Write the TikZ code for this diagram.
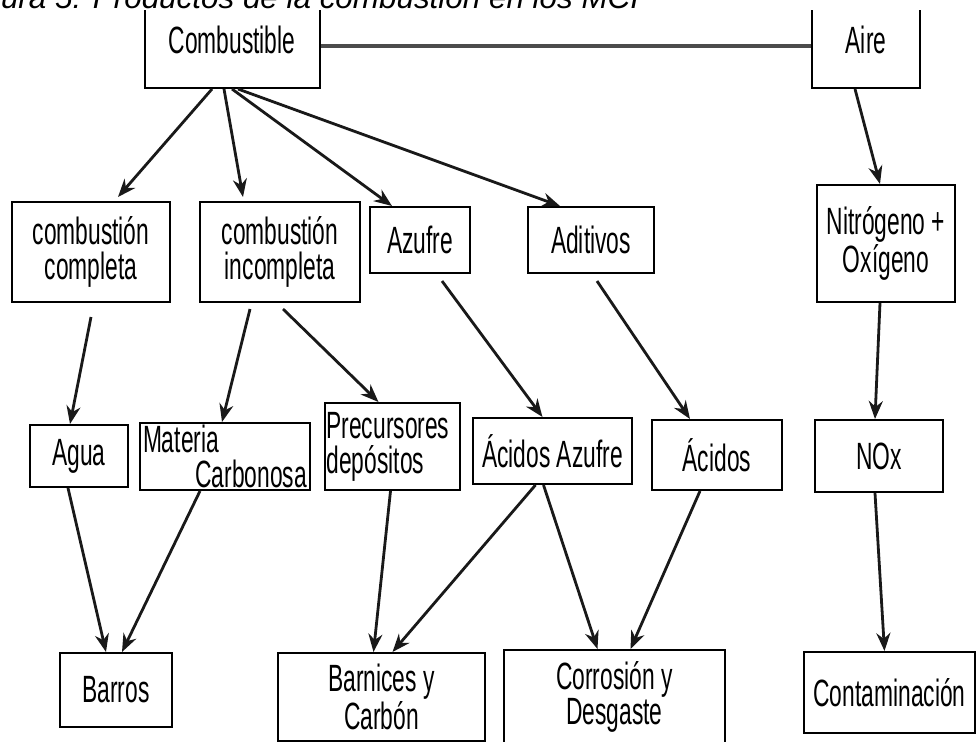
\documentclass[tikz,border=0pt]{standalone}
\usepackage{fontspec}
\setmainfont{Liberation Sans}
\newfontfamily\narrowsf{Liberation Sans}[FakeStretch=0.6]
\usepackage{tikz}
\usetikzlibrary{arrows.meta}

\begin{document}
\begin{tikzpicture}[
  x=0.5pt, y=-0.5pt,
  >={Stealth[length=9pt,width=7pt]},
  box/.style={draw, line width=1pt, inner sep=0pt, font=\narrowsf\fontsize{19}{17.5}\selectfont, align=center},
  flow/.style={->, line width=1.4pt, black!90},
  link/.style={line width=2.4pt, black!70}
]
\useasboundingbox (0,0) rectangle (976,741);
\clip (0,0) rectangle (976,741);

% Top row
\node[box, minimum width=87.5pt, minimum height=48pt] (comb) at (232,40) {Combustible};
\node[box, minimum width=54pt, minimum height=48pt] (aire) at (866,40) {Aire};

% Second row
\node[box, minimum width=79pt, minimum height=50pt] (ccomp) at (91,252) {combustión\\completa};
\node[box, minimum width=80pt, minimum height=50pt] (cinc) at (280,252) {combustión\\incompleta};
\node[box, minimum width=50pt, minimum height=33pt] (azufre) at (420,240) {Azufre};
\node[box, minimum width=63pt, minimum height=33pt] (aditivos) at (591,240) {Aditivos};
\node[box, minimum width=69pt, minimum height=58.5pt] (nitro) at (886,243.5) {Nitrógeno +\\Oxígeno};

% Third row
\node[box, minimum width=85pt, minimum height=33.5pt, text width=82pt, align=left] (materia) at (225,456.5) {Materia\\\hspace*{\fill}Carbonosa};
\node[box, minimum width=49pt, minimum height=31pt] (agua) at (79,456) {Agua};
\node[box, minimum width=67.5pt, minimum height=43.5pt, text width=66pt, align=left] (precur) at (392.5,446.5) {Precursores\\depósitos};
\node[box, minimum width=79.5pt, minimum height=33pt] (acaz) at (552.5,451) {Ácidos Azufre};
\node[box, minimum width=65pt, minimum height=35pt] (acidos) at (717,455) {Ácidos};
\node[box, minimum width=64pt, minimum height=36pt] (nox) at (879,456) {NOx};

% Bottom row
\node[box, minimum width=56pt, minimum height=37pt] (barros) at (116,690) {Barros};
\node[box, minimum width=103.5pt, minimum height=44pt] (barnices) at (381.5,697) {Barnices y\\Carbón};
\node[box, minimum width=110.5pt, minimum height=47pt] (corr) at (614.5,697) {Corrosión y\\Desgaste};
\node[box, minimum width=85.5pt, minimum height=40.5pt] (contam) at (889.5,692.5) {Contaminación};

% Link fuel - air
\draw[link] ([yshift=-3pt]comb.east) -- ([yshift=-3pt]aire.west);

% Arrows from the fuel
\draw[flow] ([xshift=-10pt]comb.south) -- ([xshift=13.5pt,yshift=2pt]ccomp.north);
\draw[flow] ([xshift=-4pt]comb.south) -- ([xshift=-18.5pt,yshift=2pt]cinc.north);
\draw[flow] ([xshift=0pt]comb.south) -- ([xshift=-14pt]azufre.north);
\draw[flow] ([xshift=3pt]comb.south) -- ([xshift=-15.5pt]aditivos.north);
\draw[flow] ([xshift=-5.5pt]aire.south) -- ([xshift=-3pt]nitro.north);

% Second to third row
\draw[flow] ([yshift=-7pt]ccomp.south) -- ([xshift=-4.5pt]agua.north);
\draw[flow] ([xshift=-15pt,yshift=-3pt]cinc.south) -- ([xshift=-1.5pt]materia.north);
\draw[flow] ([xshift=1.5pt,yshift=-3pt]cinc.south) -- ([xshift=-7pt]precur.north);
\draw[flow] ([xshift=11pt,yshift=-3.5pt]azufre.south) -- ([xshift=-5pt]acaz.north);
\draw[flow] ([xshift=3pt,yshift=-3.5pt]aditivos.south) -- ([xshift=-13.5pt]acidos.north);
\draw[flow] ([xshift=-3pt]nitro.south) -- ([xshift=-2pt]nox.north);

% Third to bottom row
\draw[flow] ([xshift=-5.5pt]agua.south) -- ([xshift=-5pt]barros.north);
\draw[flow] ([xshift=-12.5pt]materia.south) -- ([xshift=3pt]barros.north);
\draw[flow] ([xshift=-1pt]precur.south) -- ([xshift=-4pt]barnices.north);
\draw[flow] ([xshift=-8.5pt]acaz.south) -- ([xshift=5.5pt]barnices.north);
\draw[flow] ([xshift=-4.5pt]acaz.south) -- ([xshift=-8.5pt]corr.north);
\draw[flow] ([xshift=-8.5pt]acidos.south) -- ([xshift=8pt]corr.north);
\draw[flow] ([xshift=-2pt]nox.south) -- ([xshift=-2.5pt]contam.north);

% Caption, cut at the top
\fill[white] (0,0) rectangle (976,10);
\node[anchor=base west, inner sep=0pt, font=\fontsize{15.7}{17}\selectfont\itshape] (title) at (-43,8) {Figura 5: Productos de la combustión en los MCI};
\end{tikzpicture}
\end{document}
